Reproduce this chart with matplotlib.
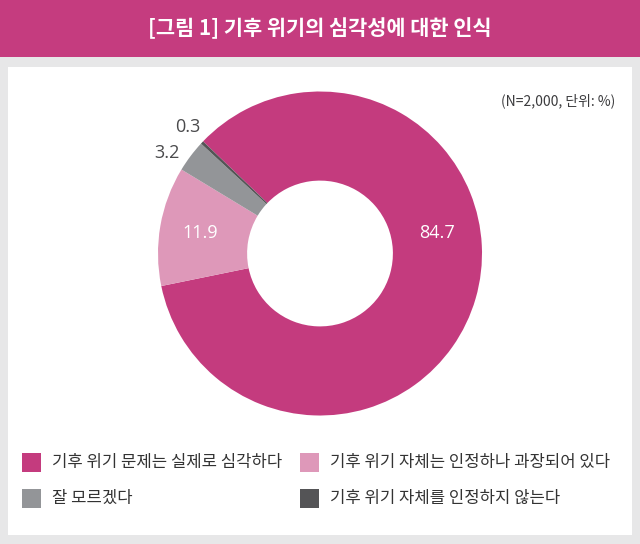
import numpy as np
import matplotlib
matplotlib.use("Agg")
import matplotlib.pyplot as plt
from matplotlib.patches import Rectangle

plt.rcParams['font.family'] = ['Noto Sans CJK KR', 'DejaVu Sans']

title = "[그림 1] 기후 위기의 심각성에 대한 인식"
note = "(N=2,000, 단위: %)"
categories = ["기후 위기 문제는 실제로 심각하다",
              "기후 위기 자체는 인정하나 과장되어 있다",
              "잘 모르겠다",
              "기후 위기 자체를 인정하지 않는다"]
values = [84.7, 11.9, 3.2, 0.3]
labels = ["84.7", "11.9", "3.2", "0.3"]
colors = ["#C43B7E", "#DE98B9", "#939598", "#545456"]
label_colors = ["white", "white", "#4A4A4C", "#4A4A4C"]
# label placement: (angle offset from wedge middle in degrees, radius)
label_place = [(26.0, 0.73), (0.0, 0.75), (3.5, 1.13), (-0.5, 1.13)]

W, H = 640, 544
fig = plt.figure(figsize=(W / 100, H / 100), dpi=100)
fig.patch.set_facecolor("#E7E7E8")

# header bar
fig.patches.append(Rectangle((0, 1 - 57 / H), 1, 57 / H, transform=fig.transFigure,
                             facecolor="#C53C7F", edgecolor="none", zorder=-2))
# white panel
fig.patches.append(Rectangle((8 / W, 1 - 535 / H), 624 / W, 468 / H, transform=fig.transFigure,
                             facecolor="white", edgecolor="none", zorder=-2))

fig.text(0.5, 1 - 28 / H, title, ha="center", va="center", color="white",
         fontsize=15, fontweight="bold")
fig.text(615 / W, 1 - 101 / H, note, ha="right", va="center", color="#3C3C3E", fontsize=10)

# donut
cx, cy, r = 320, 253.5, 162
ax = fig.add_axes([(cx - r) / W, 1 - (cy + r) / H, 2 * r / W, 2 * r / H])
ax.set_zorder(1)
ax.patch.set_visible(False)
wedges, _ = ax.pie(values, colors=colors, startangle=136.2, counterclock=False,
                   wedgeprops=dict(width=0.55, edgecolor="none", linewidth=0))
ax.set_xlim(-1, 1)
ax.set_ylim(-1, 1)
ax.set_aspect("equal")
ax.axis("off")

for w, lab, lc, (off, rad) in zip(wedges, labels, label_colors, label_place):
    mid = np.deg2rad((w.theta1 + w.theta2) / 2 + off)
    ax.text(rad * np.cos(mid), rad * np.sin(mid), lab, ha="center", va="center",
            color=lc, fontsize=13, family=["Open Sans", "DejaVu Sans"], clip_on=False)

# legend
leg_x = [22, 300]
leg_y = [462, 498]
sq = 19
for i, (cat, col) in enumerate(zip(categories, colors)):
    x = leg_x[i % 2]
    y = leg_y[i // 2]
    fig.patches.append(Rectangle((x / W, 1 - (y + sq / 2) / H), sq / W, sq / H,
                                 transform=fig.transFigure, facecolor=col, edgecolor="none",
                                 zorder=2))
    fig.text((x + 30) / W, 1 - y / H, cat, ha="left", va="center", color="#333333", fontsize=12)

fig.savefig("out.png", dpi=100, facecolor=fig.get_facecolor())
